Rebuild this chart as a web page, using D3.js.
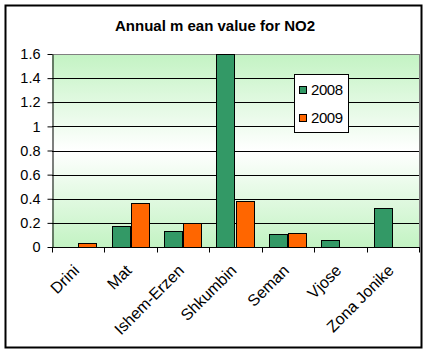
<!DOCTYPE html>
<html><head><meta charset="utf-8">
<script src="https://cdn.jsdelivr.net/npm/d3@7"></script>
<style>body{margin:0;background:#fff}svg{display:block}text{font-family:"Liberation Sans",Arial,sans-serif}</style>
</head><body>
<script>
const categories = ["Drini","Mat","Ishem-Erzen","Shkumbin","Seman","Vjose","Zona Jonike"];
const series2008 = [0, 0.17, 0.13, 1.6, 0.105, 0.055, 0.32];
const series2009 = [0.035, 0.365, 0.2, 0.38, 0.12, 0, 0];
const seriesNames = ["2008","2009"];
const yTicks = [0,0.2,0.4,0.6,0.8,1,1.2,1.4,1.6];
const colors = ["#339966","#FF6600"];

const W=429,H=355;
const svg=d3.select("body").append("svg").attr("width",W).attr("height",H);
const m={l:52,r:419,t:54,b:247};
const defs=svg.append("defs");
const g=defs.append("linearGradient").attr("id","bg").attr("x1",0).attr("y1",0).attr("x2",0).attr("y2",1);
g.append("stop").attr("offset","0%").attr("stop-color","#c3f3c3");
g.append("stop").attr("offset","50%").attr("stop-color","#ffffff");
g.append("stop").attr("offset","100%").attr("stop-color","#c3f3c3");

svg.append("rect").attr("x",5.5).attr("y",5.5).attr("width",416).attr("height",342).attr("fill","#fff").attr("stroke","#000").attr("stroke-width",2);

svg.append("text").attr("x",215).attr("y",31).attr("text-anchor","middle").attr("font-weight","bold").attr("font-size",15).text("Annual m ean value for NO2");

const x=d3.scaleBand().domain(categories).range([m.l,m.r]);
const y=d3.scaleLinear().domain([0,1.6]).range([m.b,m.t]);
const xs=d3.scaleBand().domain(seriesNames).range([0,x.bandwidth()]).paddingOuter(0.37).paddingInner(0);

svg.append("rect").attr("x",m.l).attr("y",m.t).attr("width",m.r-m.l).attr("height",m.b-m.t).attr("fill","url(#bg)");
svg.append("g").selectAll("line").data(yTicks.slice(1,-1)).join("line")
 .attr("x1",m.l).attr("x2",m.r).attr("y1",d=>Math.round(y(d))+0.5).attr("y2",d=>Math.round(y(d))+0.5).attr("stroke","#000");
svg.append("line").attr("x1",m.l).attr("x2",m.r+0.5).attr("y1",m.t+0.5).attr("y2",m.t+0.5).attr("stroke","#808080");
svg.append("line").attr("x1",m.r+0.5).attr("x2",m.r+0.5).attr("y1",m.t).attr("y2",m.b).attr("stroke","#808080");

const data=[series2008,series2009];
data.forEach((s,si)=>{
 svg.append("g").selectAll("rect").data(s.map((v,i)=>({v,c:categories[i]})).filter(d=>d.v>0)).join("rect")
  .attr("x",d=>Math.round(x(d.c)+xs(seriesNames[si]))+0.5)
  .attr("y",d=>Math.round(y(d.v))+0.5)
  .attr("width",Math.round(xs.bandwidth())-1)
  .attr("height",d=>Math.round(y(0))-Math.round(y(d.v)))
  .attr("fill",colors[si]).attr("stroke","#000");
});

const ya=svg.append("g").attr("transform",`translate(${m.l+0.5},0)`)
 .call(d3.axisLeft(y).tickValues(yTicks).tickFormat(d3.format("~g")).tickSize(5).tickSizeOuter(0));
ya.select(".domain").attr("stroke","#000");
ya.selectAll("text").attr("font-size",14.5).attr("font-family","Liberation Sans, Arial").attr("fill","#000").attr("dx",-4);
ya.selectAll(".tick line").attr("stroke","#000");

const xa=svg.append("g").attr("transform",`translate(0,${m.b+0.5})`);
xa.append("line").attr("x1",m.l).attr("x2",m.r+1).attr("stroke","#000");
const bounds=categories.map(c=>x(c)).concat([x.range()[1]]);
xa.selectAll("line.t").data(bounds).join("line").attr("class","t")
 .attr("x1",d=>Math.round(d)+0.5).attr("x2",d=>Math.round(d)+0.5).attr("y1",0).attr("y2",5).attr("stroke","#000");
xa.selectAll("text").data(categories).join("text")
 .attr("transform",d=>`translate(${x(d)+x.bandwidth()/2-6},${16}) rotate(-45)`)
 .attr("text-anchor","end").attr("font-size",16).attr("dy","0.71em").text(d=>d);

const lg=svg.append("g");
lg.append("rect").attr("x",294.5).attr("y",74.5).attr("width",54).attr("height",58).attr("fill","#fff").attr("stroke","#000");
seriesNames.forEach((n,i)=>{
 const yy=86+i*28;
 lg.append("rect").attr("x",299.5).attr("y",yy+0.5).attr("width",7).attr("height",7).attr("fill",colors[i]).attr("stroke","#000");
 lg.append("text").attr("x",311).attr("y",yy+9).attr("font-size",15).attr("textLength",32).text(n);
});
</script>
</body></html>
